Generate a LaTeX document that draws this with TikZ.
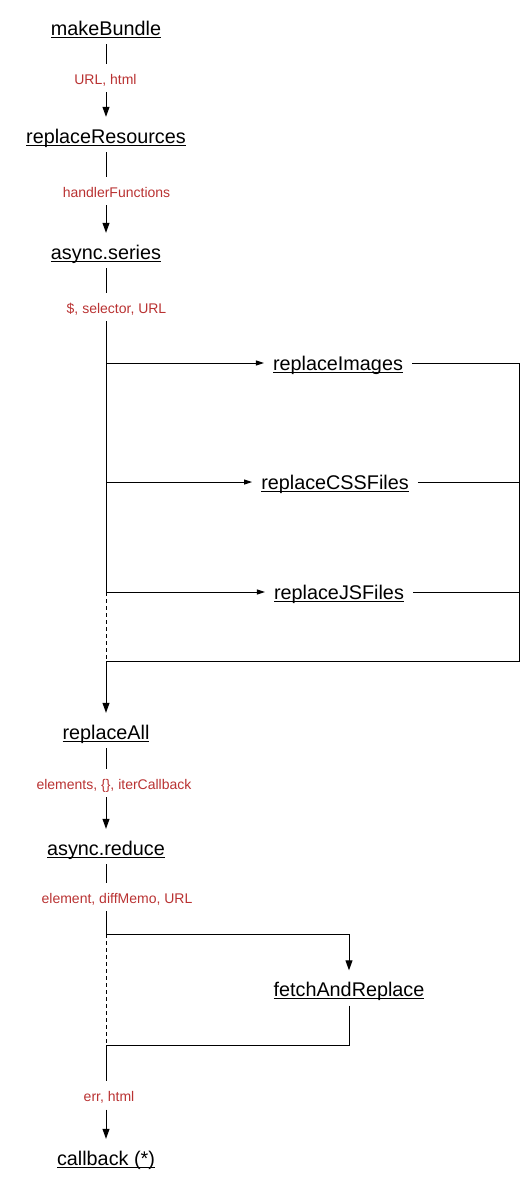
\documentclass[tikz,border=0pt]{standalone}
\usepackage{fontspec}
\setmainfont{Liberation Sans}
\usetikzlibrary{arrows.meta,calc}
\definecolor{lblred}{RGB}{185,50,50}
\newcommand\ulbox[1]{\setbox0\hbox{#1}\rlap{\usebox0}\rule[-2.6pt]{\wd0}{1pt}}
\begin{document}
\begin{tikzpicture}[x=1pt,y=-1pt,
  fn/.style={anchor=base, inner xsep=9pt, inner ysep=0pt, text height=26pt, text depth=9pt, font=\fontsize{19.8}{23}\selectfont},
  lbl/.style={anchor=base, inner sep=0pt, text height=20pt, text depth=8pt, text=lblred, font=\fontsize{14}{16}\selectfont},
  conn/.style={line width=0.95pt, draw=black},
  arr/.style={conn, -{Triangle[length=10pt,width=7pt]}},
  harr/.style={conn, -{Triangle[length=8pt,width=5pt]}},
  dashline/.style={conn, dash pattern=on 4pt off 3pt}
]
\useasboundingbox (0,0) rectangle (531,1186);

% function nodes
\node[fn] (mb) at (106,35) {\ulbox{makeBundle}};
\node[fn] (rr) at (106,143) {\ulbox{replaceResources}};
\node[fn] (as) at (106,259) {\ulbox{async.series}};
\node[fn] (ri) at (338,370) {\ulbox{replaceImages}};
\node[fn] (ci) at (335,489) {\ulbox{replaceCSSFiles}};
\node[fn] (ji) at (339,599) {\ulbox{replaceJSFiles}};
\node[fn] (ra) at (106,739) {\ulbox{replaceAll}};
\node[fn] (ar) at (106,855) {\ulbox{async.reduce}};
\node[fn] (fr) at (349,996.5) {\ulbox{fetchAndReplace}};
\node[fn] (cb) at (106,1165) {\ulbox{callback (*)}};

% labels
\node[lbl] (l1) at (105.5,84) {URL, html};
\node[lbl] (l2) at (116.5,197) {handlerFunctions};
\node[lbl] (l3) at (116.5,313) {\$, selector, URL};
\node[lbl] (l4) at (114,789) {elements, \{\}, iterCallback};
\node[lbl] (l5) at (117,903) {element, diffMemo, URL};
\node[lbl] (l6) at (109,1101.5) {err, html};

% helper coordinates
\coordinate (ri-in) at ([yshift=7pt]ri.base west);
\coordinate (ci-in) at ([yshift=7pt]ci.base west);
\coordinate (ji-in) at ([yshift=7pt]ji.base west);
\coordinate (ri-out) at ([yshift=7pt]ri.base east);
\coordinate (ci-out) at ([yshift=7pt]ci.base east);
\coordinate (ji-out) at ([yshift=7pt]ji.base east);
\coordinate (loopR) at (519,661);
\coordinate (loopL) at (loopR -| as);
\coordinate (fj) at (106,934);
\coordinate (fk) at (106,1045);

% top chain
\draw[conn] (mb.south) -- (mb.south |- l1.north);
\draw[arr] (l1.south -| mb) -- (rr.north);
\draw[conn] (rr.south) -- (rr.south |- l2.north);
\draw[arr] (l2.south -| rr) -- (as.north);
\draw[conn] (as.south) -- (as.south |- l3.north);

% series branches
\draw[conn] (l3.south -| as) -- (ji-in -| as);
\draw[dashline] (ji-in -| as) -- (loopL);
\draw[harr] (ri-in -| as) -- (ri-in);
\draw[harr] (ci-in -| as) -- (ci-in);
\draw[harr] (ji-in -| as) -- (ji-in);
\draw[conn] (ri-out) -- (ri-out -| loopR) -- (loopR) -- (loopL);
\draw[conn] (ci-out) -- (ci-out -| loopR);
\draw[conn] (ji-out) -- (ji-out -| loopR);
\draw[arr] (loopL) -- (ra.north);

% lower chain
\draw[conn] (ra.south) -- (ra.south |- l4.north);
\draw[arr] (l4.south -| ra) -- (ar.north);
\draw[conn] (ar.south) -- (ar.south |- l5.north);
\draw[conn] (l5.south -| ar) -- (fj);
\draw[arr] (fj) -- (fj -| fr) -- (fr.north);
\draw[dashline] (fj) -- (fk);
\draw[conn] (fr.south) -- (fr.south |- fk) -- (fk);
\draw[conn] (fk) -- (fk |- l6.north);
\draw[arr] (l6.south -| fk) -- (cb.north);
\end{tikzpicture}
\end{document}
